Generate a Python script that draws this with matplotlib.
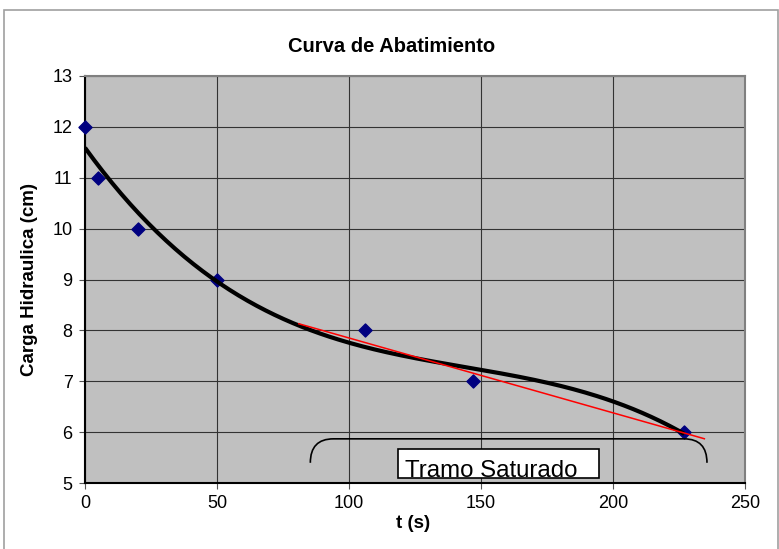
import numpy as np
import matplotlib
matplotlib.use("Agg")
from matplotlib import pyplot as plt
from matplotlib.path import Path
from matplotlib.patches import PathPatch, Rectangle

plt.rcParams["font.family"] = ["Liberation Sans", "DejaVu Sans"]

# measured points
t_data = [0, 5, 20, 50, 106, 147, 227]
h_data = [12, 11, 10, 9, 8, 7, 6]

# red line (start / end)
red_t = [81, 234.6]
red_h = [8.13, 5.87]

x_ticks = [0, 50, 100, 150, 200, 250]
y_ticks = [5, 6, 7, 8, 9, 10, 11, 12, 13]

fig = plt.figure(figsize=(7.79, 5.49), dpi=100)
ax = fig.add_axes([85 / 779, 1 - 483 / 549, 660 / 779, 407 / 549])
ax.set_facecolor("#C0C0C0")

# outer chart border
fig.patches.append(Rectangle((4 / 779, -0.05), 774 / 779, 1 - 10 / 549 + 0.05,
                             transform=fig.transFigure, fill=False,
                             edgecolor="#A0A0A0", lw=1.2))

ax.scatter(t_data, h_data, marker="D", s=44, color="#000080", zorder=3,
           clip_on=False)

# cubic trend line like the excel one
coef = np.polyfit(t_data, h_data, 3)
tt = np.linspace(min(t_data), max(t_data), 200)
ax.plot(tt, np.polyval(coef, tt), color="black", lw=3, zorder=4,
        solid_capstyle="butt")

ax.plot(red_t, red_h, color="red", lw=1.1, zorder=5)

# bracket under the saturated part
verts = [(85.35, 5.397), (85.35, 5.868), (94.1, 5.868),
         (226.9, 5.868), (235.6, 5.868), (235.6, 5.397)]
codes = [Path.MOVETO, Path.CURVE3, Path.CURVE3,
         Path.LINETO, Path.CURVE3, Path.CURVE3]
ax.add_patch(PathPatch(Path(verts, codes), fill=False, edgecolor="black",
                       lw=1.2, zorder=5))
ax.add_patch(Rectangle((118.7, 5.102), 75.9, 0.57, facecolor="white",
                       edgecolor="black", lw=1.2, zorder=6))
ax.text(121.2, 5.12, "Tramo Saturado", fontsize=17.3, va="baseline",
        ha="left", zorder=7)

ax.set_xlim(0, 250)
ax.set_ylim(5, 13)
ax.set_xticks(x_ticks)
ax.set_yticks(y_ticks)
ax.grid(True, color="#333333", lw=0.8)
ax.set_axisbelow(True)
ax.tick_params(direction="out", length=4, width=0.8, labelsize=13,
               color="#555555", pad=5)
ax.spines["left"].set_color("black")
ax.spines["bottom"].set_color("black")
ax.spines["top"].set_color("#808080")
ax.spines["right"].set_color("#808080")
for s in ax.spines.values():
    s.set_linewidth(1.5)

fig.text(392 / 779, 1 - 46 / 549, "Curva de Abatimiento", fontsize=14.5,
         fontweight="bold", ha="center", va="center")
fig.text(413 / 779, 1 - 523 / 549, "t (s)", fontsize=13.5, fontweight="bold",
         ha="center", va="center")
fig.text(30 / 779, 1 - 280 / 549, "Carga Hidraulica (cm)", fontsize=13.5,
         fontweight="bold", ha="center", va="center", rotation=90)

fig.savefig("out.png", dpi=100)
